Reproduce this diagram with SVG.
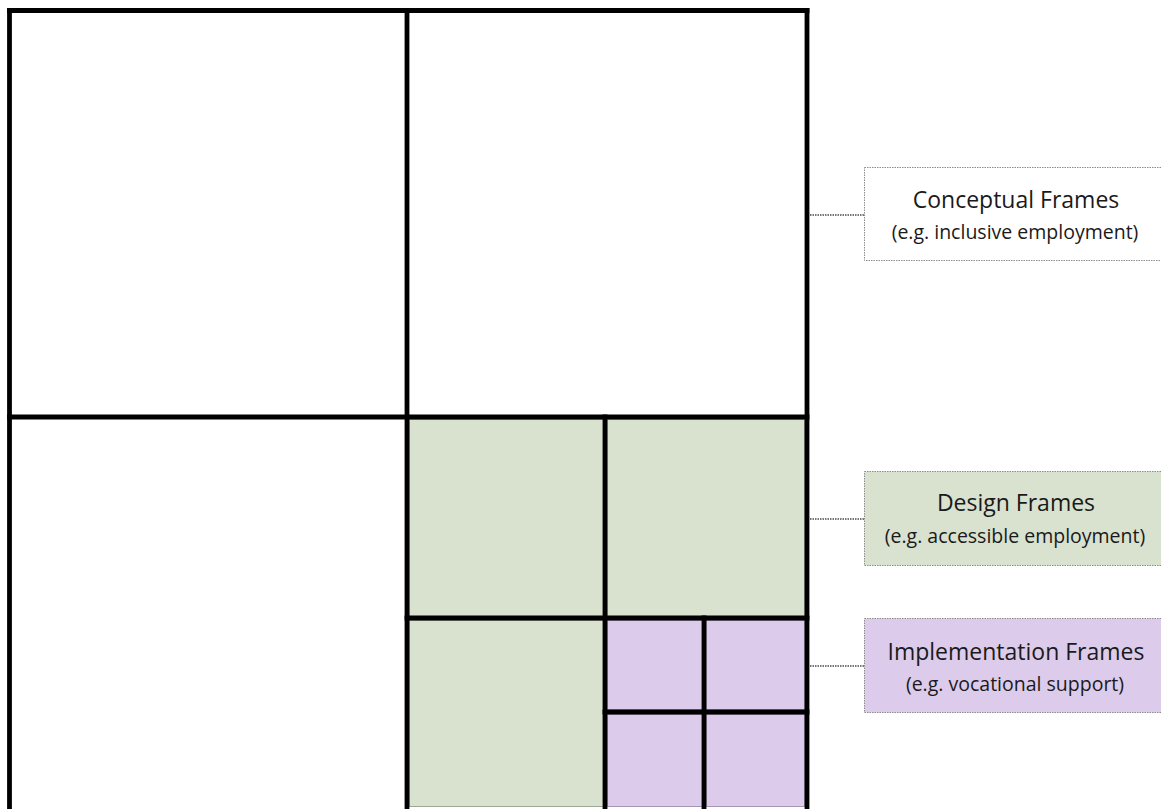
<svg xmlns="http://www.w3.org/2000/svg" width="1161" height="809" viewBox="0 0 1161 809">
<style>
.green{fill:#d9e1cf;stroke:#9fa897;stroke-width:1}
.purple{fill:#ddcbec;stroke:#a596b4;stroke-width:1}
.grid line{stroke:#000;stroke-width:4.8;stroke-linecap:square}
.lbl{stroke:#8c8c8c;stroke-width:1;stroke-dasharray:1.5 1}
.conn line{stroke:#4a4a4a;stroke-width:1.5;stroke-dasharray:1.5 1}
.t1{font-family:"Open Sans","Noto Sans","Liberation Sans",sans-serif;font-size:23px;fill:#1a1a1a;text-anchor:middle}
.t2{font-family:"Open Sans","Noto Sans","Liberation Sans",sans-serif;font-size:19.5px;fill:#1a1a1a;text-anchor:middle}
</style>
<rect width="1161" height="809" fill="#fff"/>
<g id="cells">
<rect class="green" x="409.5" y="419.5" width="194" height="197"/>
<rect class="green" x="607.5" y="419.5" width="197" height="197"/>
<rect class="green" x="409.5" y="620.5" width="194" height="186"/>
<rect class="purple" x="607.5" y="620.5" width="95" height="89"/>
<rect class="purple" x="706.5" y="620.5" width="98" height="89"/>
<rect class="purple" x="607.5" y="714.5" width="95" height="92"/>
<rect class="purple" x="706.5" y="714.5" width="98" height="92"/>
</g>
<g class="grid" id="grid">
<line x1="9.5" y1="10.5" x2="807" y2="10.5"/>
<line x1="9.5" y1="10.5" x2="9.5" y2="812"/>
<line x1="807" y1="10.5" x2="807" y2="812"/>
<line x1="407" y1="10.5" x2="407" y2="812"/>
<line x1="9.5" y1="417" x2="807" y2="417"/>
<line x1="605" y1="417" x2="605" y2="812"/>
<line x1="407" y1="618" x2="807" y2="618"/>
<line x1="704" y1="618" x2="704" y2="812"/>
<line x1="605" y1="712" x2="807" y2="712"/>
</g>
<g class="conn" id="connectors">
<line x1="810" y1="215" x2="864" y2="215"/>
<line x1="810" y1="519" x2="864" y2="519"/>
<line x1="810" y1="666" x2="864" y2="666"/>
</g>
<g id="conceptual">
<rect class="lbl" x="864.5" y="167.5" width="310" height="93" fill="#fff"/>
<text class="t1" x="1016" y="208">Conceptual Frames</text>
<text class="t2" x="1015" y="239">(e.g. inclusive employment)</text>
</g>
<g id="design">
<rect class="lbl" x="864.5" y="471.5" width="310" height="94" fill="#d9e1cf"/>
<text class="t1" x="1016" y="511">Design Frames</text>
<text class="t2" x="1015" y="543">(e.g. accessible employment)</text>
</g>
<g id="implementation">
<rect class="lbl" x="864.5" y="618.5" width="310" height="94" fill="#ddcbec"/>
<text class="t1" x="1016" y="660">Implementation Frames</text>
<text class="t2" x="1015" y="691">(e.g. vocational support)</text>
</g>
</svg>
